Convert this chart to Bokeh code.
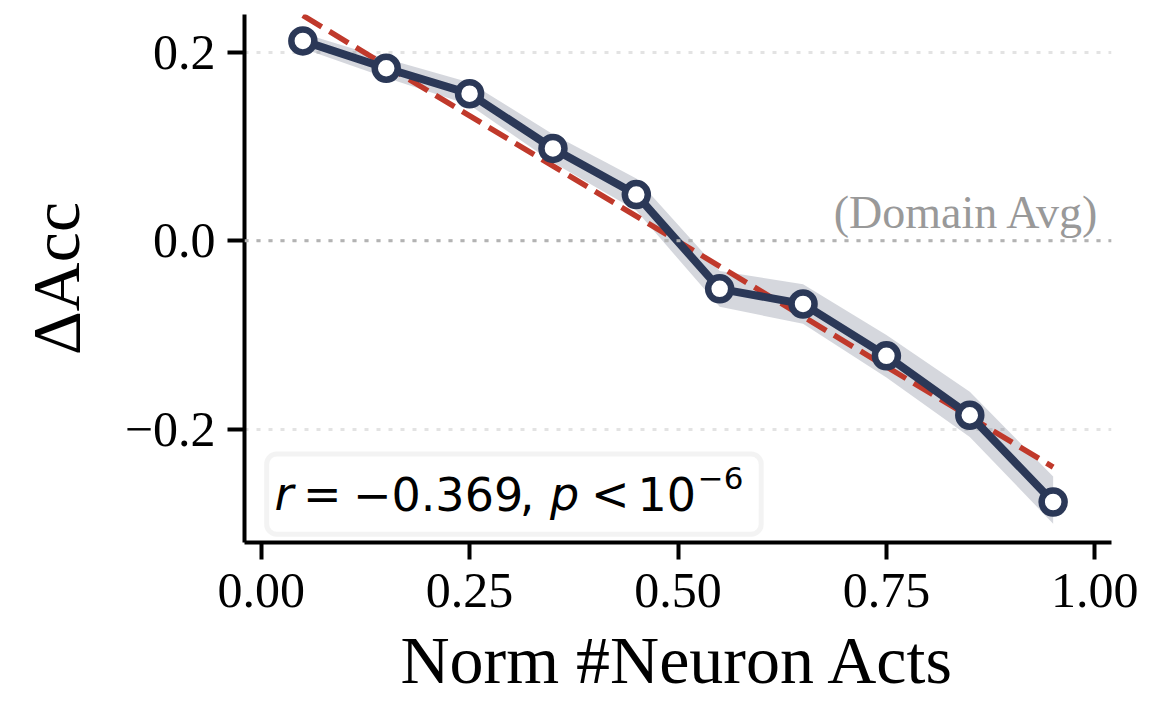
from bokeh.plotting import figure
from bokeh.models import FixedTicker, Span, Label, BoxAnnotation
from bokeh.embed import file_html
from bokeh.resources import INLINE

# ---- data ----
x_vals = [0.05, 0.15, 0.25, 0.35, 0.45, 0.55, 0.65, 0.75, 0.85, 0.95]
delta_acc = [0.212, 0.183, 0.156, 0.098, 0.049, -0.051, -0.067, -0.122, -0.185, -0.277]
band_upper = [0.220, 0.193, 0.168, 0.113, 0.066, -0.032, -0.046, -0.100, -0.160, -0.250]
band_lower = [0.204, 0.173, 0.144, 0.083, 0.032, -0.070, -0.088, -0.145, -0.208, -0.300]
fit_x = [0.05, 0.95]
fit_y = [0.239, -0.240]

x_ticks = [0.0, 0.25, 0.5, 0.75, 1.0]
x_tick_labels = ["0.00", "0.25", "0.50", "0.75", "1.00"]
y_ticks = [-0.2, 0.0, 0.2]
y_tick_labels = ["\u22120.2", "0.0", "0.2"]

x_label = "Norm #Neuron Acts"
y_label = "\u0394Acc"
ref_label = "(Domain Avg)"

NAVY = "#2b3857"
RED = "#c0392b"
SERIF = "Liberation Serif"

p = figure(width=1168, height=700, x_range=(-0.02, 1.02), y_range=(-0.32, 0.24),
           output_backend="svg", toolbar_location=None,
           min_border_left=244, min_border_right=57, min_border_top=14, min_border_bottom=154)
p.outline_line_color = None
p.background_fill_color = "white"
p.border_fill_color = "white"

# grid
p.xgrid.grid_line_color = None
p.ygrid.ticker = FixedTicker(ticks=y_ticks)
p.ygrid.grid_line_color = "#e3e3e3"
p.ygrid.grid_line_width = 3
p.ygrid.grid_line_dash = "4 8"

# axes
for ax in (p.xaxis[0], p.yaxis[0]):
    ax.axis_line_width = 4
    ax.axis_line_color = "black"
    ax.major_tick_line_width = 4
    ax.major_tick_line_color = "black"
    ax.major_tick_out = 17
    ax.major_tick_in = 0
    ax.minor_tick_out = 0
    ax.minor_tick_in = 0
    ax.major_label_text_font = SERIF
    ax.major_label_text_font_size = "50px"
    ax.major_label_text_color = "black"
    ax.axis_label_text_font = SERIF
    ax.axis_label_text_font_size = "68px"
    ax.axis_label_text_font_style = "normal"
    ax.axis_label_text_color = "black"

p.xaxis.ticker = FixedTicker(ticks=x_ticks)
p.xaxis.major_label_overrides = dict(zip(x_ticks, x_tick_labels))
p.yaxis.ticker = FixedTicker(ticks=y_ticks)
p.yaxis.major_label_overrides = dict(zip(y_ticks, y_tick_labels))
p.xaxis.major_label_standoff = 14
p.yaxis.major_label_standoff = 12
p.xaxis.axis_label = x_label
p.yaxis.axis_label = y_label
p.xaxis.axis_label_standoff = 12
p.yaxis.axis_label_standoff = 28

# zero reference line
p.add_layout(Span(location=0.0, dimension="width", line_color="#b3b3b3",
                  line_width=3, line_dash="4 8"))

# band, fit, line, markers
p.varea(x=x_vals, y1=band_lower, y2=band_upper, fill_color=NAVY, fill_alpha=0.2)
p.line(fit_x, fit_y, line_color=RED, line_width=5.5, line_dash="22 9")
p.line(x_vals, delta_acc, line_color=NAVY, line_width=8)
p.scatter(x_vals, delta_acc, marker="circle", size=23, fill_color="white",
          line_color=NAVY, line_width=6.5)

# "(Domain Avg)" label
p.add_layout(Label(x=1.006, y=0.0296, text=ref_label, text_align="right",
                   text_baseline="alphabetic", text_font=SERIF,
                   text_font_size="46px", text_color="#999999"))

# stats box
p.add_layout(BoxAnnotation(left=0.0066, right=0.5998, top=-0.2261, bottom=-0.3112,
                           fill_color="white", fill_alpha=0.85,
                           line_color="#d8d8d8", line_width=5, border_radius=10))
stat_font = "DejaVu Sans"
base_y = -0.2688
sup_y = -0.2519
stat_pieces = [
    (0.0161, base_y, "r", "italic", "46px"),
    (0.0501, base_y, "=", "normal", "46px"),
    (0.1100, base_y, "\u2212", "normal", "46px"),
    (0.1563, base_y, "0.369", "normal", "46px"),
    (0.3103, base_y, ",", "normal", "46px"),
    (0.3465, base_y, "p", "italic", "46px"),
    (0.3956, base_y, "<", "normal", "46px"),
    (0.4514, base_y, "10", "normal", "46px"),
    (0.5238, sup_y, "\u22126", "normal", "31px"),
]
for sx, sy, st, sstyle, ssize in stat_pieces:
    p.add_layout(Label(x=sx, y=sy, text=st, text_font=stat_font,
                       text_font_style=sstyle, text_font_size=ssize,
                       text_baseline="alphabetic", text_color="black"))

open("out.html", "w").write(file_html(p, INLINE))
